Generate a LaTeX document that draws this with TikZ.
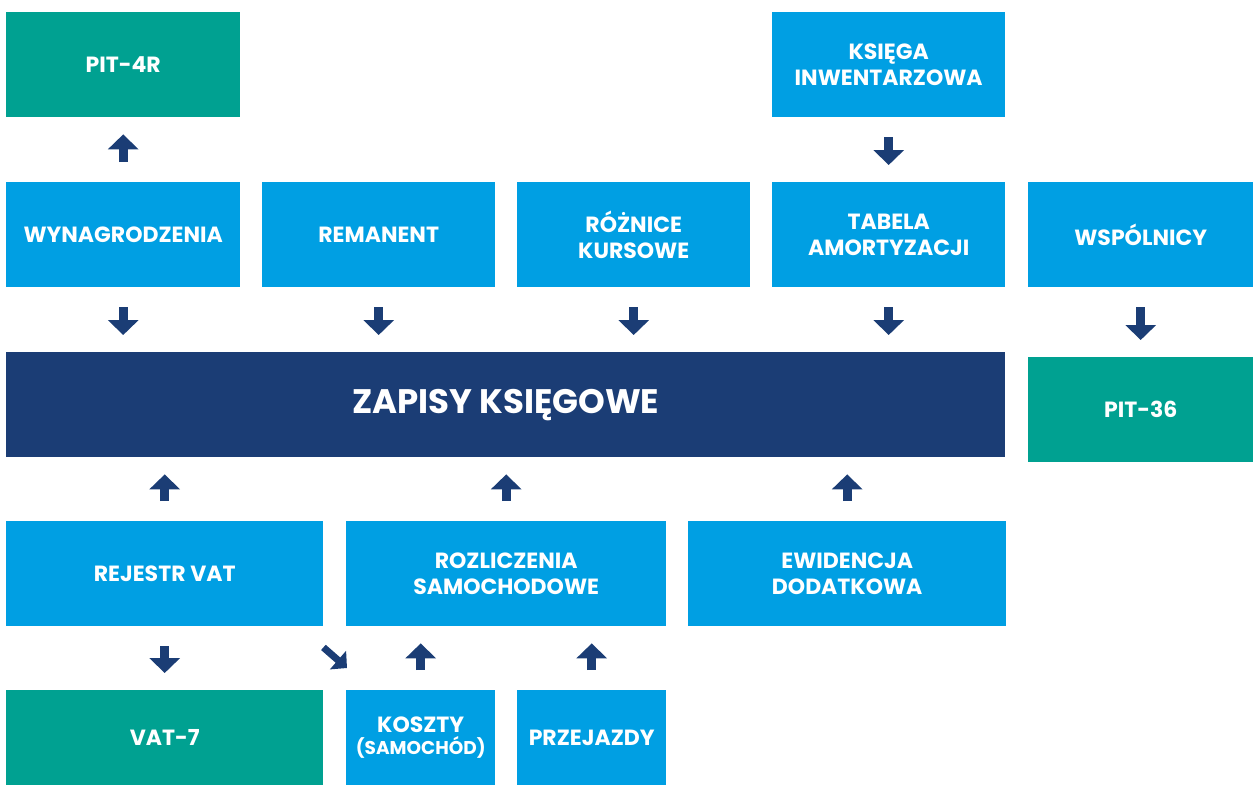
\documentclass[tikz,border=0pt]{standalone}
\usepackage{fontspec}
\setmainfont{Poppins}
\usetikzlibrary{arrows.meta}
\definecolor{niebieski}{RGB}{0,159,227}
\definecolor{zielony}{RGB}{0,161,145}
\definecolor{granat}{RGB}{27,61,117}
\tikzset{
    box/.style={fill=niebieski, text=white, font=\bfseries\fontsize{22}{26}\selectfont,
        align=center, inner sep=0pt, minimum height=105pt, anchor=north west},
    druk/.style={box, fill=zielony},
    blockarrow/.style={granat, line width=9pt, -{Triangle[width=30pt,length=15pt]},
        shorten <=20pt, shorten >=17pt}
}
\begin{document}
\begin{tikzpicture}[x=1pt, y=-1pt]
    \useasboundingbox (0,0) rectangle (1253,785);
    % gorny rzad
    \node[druk, minimum width=234pt] (pit4r) at (6,12) {PIT-4R};
    \node[box, minimum width=233pt] (ksiega) at (772,12) {KSIĘGA\\INWENTARZOWA};
    \node[box, minimum width=234pt] (wyn) at (6,182) {WYNAGRODZENIA};
    \node[box, minimum width=233pt] (rem) at (262,182) {REMANENT};
    \node[box, minimum width=233pt] (roz) at (517,182) {RÓŻNICE\\KURSOWE};
    \node[box, minimum width=233pt] (tab) at (772,182) {TABELA\\AMORTYZACJI};
    \node[box, minimum width=225pt] (wsp) at (1028,182) {WSPÓLNICY};
    % srodek
    \node[box, fill=granat, minimum width=999pt, font=\bfseries\fontsize{34}{40}\selectfont] (zapisy) at (6,352) {ZAPISY KSIĘGOWE};
    \node[druk, minimum width=225pt] (pit36) at (1028,357) {PIT-36};
    % dolny rzad
    \node[box, minimum width=317pt] (rejestr) at (6,521) {REJESTR VAT};
    \node[box, minimum width=320pt] (rozl) at (346,521) {ROZLICZENIA\\SAMOCHODOWE};
    \node[box, minimum width=318pt] (ewid) at (688,521) {EWIDENCJA\\DODATKOWA};
    \node[druk, minimum width=317pt, minimum height=95pt] (vat) at (6,690) {VAT-7};
    \node[box, minimum width=149pt, minimum height=95pt, font=\bfseries\fontsize{22}{22}\selectfont] (koszty) at (346,690) {KOSZTY\\{\fontsize{18.5}{22}\selectfont(SAMOCHÓD)}};
    \node[box, minimum width=149pt, minimum height=95pt] (przej) at (517,690) {PRZEJAZDY};

\foreach \n in {wyn,rem,roz,tab}
{
    \draw[blockarrow] (\n.south) -- (\n.south |- zapisy.north);
}
\draw[blockarrow] (wyn.north) -- (pit4r.south);
\draw[blockarrow] (ksiega.south) -- (tab.north);
\draw[blockarrow] (wsp.south) -- (pit36.north);
\foreach \n in {rejestr,rozl,ewid}
{
    \draw[blockarrow] (\n.north) -- (\n.north |- zapisy.south);
}
\draw[blockarrow] (rejestr.south) -- (vat.north);
\draw[blockarrow] (koszty.north) -- (koszty.north |- rozl.south);
\draw[blockarrow] (przej.north) -- (przej.north |- rozl.south);
\draw[blockarrow, line width=7pt, -{Triangle[width=24pt,length=12pt]}, shorten <=0pt, shorten >=0pt]
    ([shift={(0,21)}]rejestr.south east) -- ([shift={(1,-22)}]koszty.north west);
\end{tikzpicture}
\end{document}
